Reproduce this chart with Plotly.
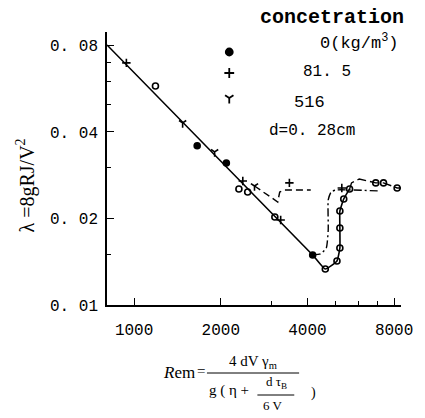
import math
import plotly.graph_objects as go

# ---------------- data ----------------
# solid curve: laminar line + transition of 0 kg/m3
LINE0_RE = [805, 4171, 4614, 5065, 5184, 5184, 5184, 5347, 5603]
LINE0_LAM = [0.0803, 0.01493, 0.01334, 0.01423, 0.01579, 0.01853, 0.02124, 0.02338, 0.02534]
# dashed turbulent continuation of 0 kg/m3
TURB0_RE = [5603, 5691, 6057, 6293, 6908, 7350, 8195, 8453]
TURB0_LAM = [0.02534, 0.0266, 0.02745, 0.0272, 0.0266, 0.0266, 0.02554, 0.02554]
# dash-dot curve (81.5 kg/m3)
LINE815_RE = [4171, 4438, 4650, 4723, 4723, 4834, 5025, 7125]
LINE815_LAM = [0.01493, 0.01505, 0.01579, 0.01824, 0.0232, 0.02473, 0.02513, 0.02493]
# dashed curve (516 kg/m3)
LINE516_RE = [2619, 3082, 3154, 3204, 3331, 4107]
LINE516_LAM = [0.02595, 0.0232, 0.02283, 0.02473, 0.02513, 0.02513]

# measured points
PTS0_RE = [1186, 1656, 2091, 2312, 2480, 3082, 4171, 4614, 5065, 5184, 5184, 5184,
           5347, 5603, 6908, 7350, 8195]
PTS0_LAM = [0.0578, 0.0358, 0.0312, 0.02534, 0.02473, 0.02024, 0.01493, 0.01334,
            0.01423, 0.01579, 0.01853, 0.02124, 0.02338, 0.02534, 0.0266, 0.0266, 0.02554]
PTS815_RE = [940, 2385, 3229, 3462, 5265]
PTS815_LAM = [0.0696, 0.0270, 0.01976, 0.0266, 0.02554]
PTS516_RE = [1474, 1904, 2619]
PTS516_LAM = [0.0430, 0.0341, 0.02595]

X_TICKS = [1000, 2000, 4000, 8000]
X_TICKTEXT = ["1000", "2000", "4000", "8000"]
X_MINOR = [3000, 5000, 6000, 7000]
Y_TICKS = [0.01, 0.02, 0.04, 0.08]
Y_TICKTEXT = ["0. 01", "0. 02", "0. 04", "0. 08"]
Y_MINOR = [0.015, 0.03, 0.05, 0.06, 0.07]

LEGEND_LABELS = ["0(kg/m<sup>3</sup>)", "81. 5", "516"]

# ---------------- layout helpers ----------------
W, H = 425, 418
L, R, T, B = 107, 410, 32, 305


def px(x):
    return (x - L) / (R - L)


def py(y):
    return (B - y) / (B - T)


# filled dots for three points of the 0 series, open for the rest
sym0 = ["circle-open", "circle", "circle", "circle-open", "circle-open", "circle-open",
        "circle"] + ["circle-open"] * 10

fig = go.Figure()
lw = 1.6
fig.add_trace(go.Scatter(x=LINE0_RE, y=LINE0_LAM, mode="lines",
                         line=dict(color="black", width=lw, shape="spline", smoothing=0.4)))
fig.add_trace(go.Scatter(x=TURB0_RE, y=TURB0_LAM, mode="lines",
                         line=dict(color="black", width=1.4, dash="9px,4px")))
fig.add_trace(go.Scatter(x=LINE815_RE, y=LINE815_LAM, mode="lines",
                         line=dict(color="black", width=1.4, dash="8px,3px,2px,3px",
                                   shape="spline", smoothing=0.5)))
fig.add_trace(go.Scatter(x=LINE516_RE, y=LINE516_LAM, mode="lines",
                         line=dict(color="black", width=1.4, dash="7px,4px")))

fig.add_trace(go.Scatter(x=PTS0_RE, y=PTS0_LAM, mode="markers",
                         marker=dict(symbol=sym0, size=6, color="black",
                                     line=dict(color="black", width=1.6))))
fig.add_trace(go.Scatter(x=PTS815_RE, y=PTS815_LAM, mode="markers",
                         marker=dict(symbol="cross-thin", size=6,
                                     line=dict(color="black", width=1.6))))
fig.add_trace(go.Scatter(x=PTS516_RE, y=PTS516_LAM, mode="markers",
                         marker=dict(symbol="y-down", size=6,
                                     line=dict(color="black", width=1.6))))

# legend markers on an overlay axis in plot-fraction coordinates
leg_x = [px(233)] * 3
leg_y = [py(52), py(73), py(98)]
for sym, xx, yy in zip(["circle", "cross-thin", "y-down"], leg_x, leg_y):
    fig.add_trace(go.Scatter(x=[xx], y=[yy], xaxis="x2", yaxis="y2", mode="markers",
                             marker=dict(symbol=sym, size=7, color="black",
                                         line=dict(color="black", width=1.8))))

mono = "Liberation Mono"
serif = "Liberation Serif"

fig.update_layout(
    width=W, height=H,
    margin=dict(l=L, r=W - R, t=T, b=H - B, pad=0),
    paper_bgcolor="white", plot_bgcolor="white",
    showlegend=False,
    xaxis=dict(type="log", range=[math.log10(805), math.log10(8453)],
               tickmode="array", tickvals=X_TICKS, ticktext=X_TICKTEXT,
               ticks="inside", ticklen=7, tickwidth=1.3, tickcolor="black",
               showline=True, linecolor="black", linewidth=1.6,
               showgrid=False, zeroline=False, ticklabelstandoff=9,
               tickfont=dict(family=mono, size=16, color="black"),
               minor=dict(tickmode="array", tickvals=X_MINOR, ticks="inside",
                          ticklen=4, tickwidth=1.2, tickcolor="black", showgrid=False)),
    yaxis=dict(type="log", range=[-2, math.log10(0.0891)],
               tickmode="array", tickvals=Y_TICKS, ticktext=Y_TICKTEXT,
               ticks="inside", ticklen=7, tickwidth=1.3, tickcolor="black",
               showline=True, linecolor="black", linewidth=1.6,
               showgrid=False, zeroline=False, ticklabelstandoff=4,
               tickfont=dict(family=mono, size=16, color="black"),
               minor=dict(tickmode="array", tickvals=Y_MINOR, ticks="inside",
                          ticklen=4, tickwidth=1.2, tickcolor="black", showgrid=False)),
    xaxis2=dict(overlaying="x", range=[0, 1], visible=False),
    yaxis2=dict(overlaying="y", range=[0, 1], visible=False),
)

ann = []


def text(x, y, s, size, family=mono, xanchor="center", angle=0):
    ann.append(dict(xref="paper", yref="paper", x=px(x), y=py(y), text=s,
                    showarrow=False, xanchor=xanchor, yanchor="middle",
                    textangle=angle,
                    font=dict(family=family, size=size, color="black")))


# legend block
text(415, 18, "<b>concetration</b>", 20, xanchor="right")
text(410, 42, LEGEND_LABELS[0], 17, xanchor="right")
text(334, 72, LEGEND_LABELS[1], 16)
text(316, 102, LEGEND_LABELS[2], 17)
text(318, 131, "d=0. 28cm", 16)

# y title
text(23, 185, "λ =8gRJ/V<sup>2</sup>", 20, family=serif, angle=-90)

# x title (fraction built from text pieces)
text(181, 372, "<i>R</i>em", 17, family=serif)
text(204, 371, "=", 15, family=serif)
text(257, 362, "4 dV γ<sub>m</sub>", 15, family=serif)
text(233, 390, "g ( η +", 15, family=serif)
text(282, 383, "d τ<sub>B</sub>", 13, family=serif)
text(278, 405, "6 V", 13, family=serif)
text(320, 393, ")", 14, family=serif)
fig.update_layout(annotations=ann)

fig.add_shape(type="line", xref="paper", yref="paper",
              x0=px(210), x1=px(305), y0=py(373), y1=py(373),
              line=dict(color="black", width=1))
fig.add_shape(type="line", xref="paper", yref="paper",
              x0=px(262), x1=px(300), y0=py(395), y1=py(395),
              line=dict(color="black", width=1))

fig.write_html("out.html", config={"displayModeBar": False},
               post_script="document.body.style.margin='0px';document.body.style.padding='0px';")
